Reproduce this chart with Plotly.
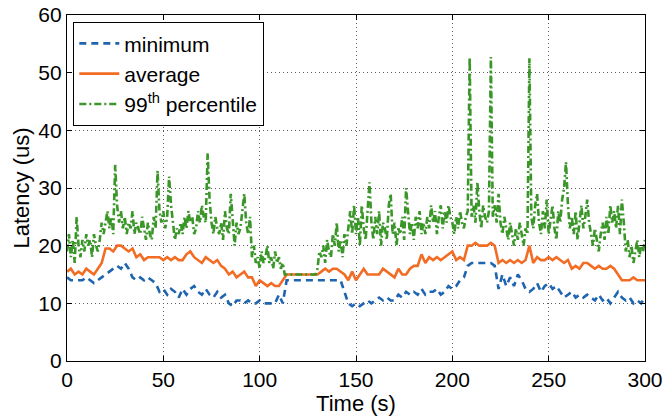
import plotly.graph_objects as go

# ---- data ----
t_step2 = list(range(0, 301, 2))
t_step1 = list(range(0, 301, 1))

minimum = [
    14.5, 14, 14, 14, 14, 14.5, 14, 13.5, 14, 14.5,
    15, 15.5, 16, 16.5, 16, 17, 16, 14.5, 14, 14.5,
    14, 14.5, 14, 13.5, 12, 12.5, 11.5, 12.5, 12, 11,
    12.5, 11.5, 12.5, 13, 12, 11.5, 12.5, 11.5, 11, 12,
    11, 11.5, 10, 9.5, 10.5, 10.5, 10, 10.5, 10, 10,
    10.5, 10, 10, 10, 10, 11.5, 10, 14, 14, 14,
    14, 14, 14, 14, 14, 14, 14, 14, 14, 14,
    14, 14, 12, 10, 9.5, 10, 9.5, 10, 10.5, 10,
    10.5, 11, 10.5, 11, 10.5, 10.5, 11.5, 11, 12, 11.5,
    12, 11.5, 12.5, 11.5, 12, 12, 12.5, 11.5, 12, 13,
    12.5, 13, 14, 14.5, 16.5, 17, 17, 17, 17, 17,
    17, 16.5, 12.5, 15, 13, 14.5, 13, 15, 14, 12.5,
    12, 12.5, 13.5, 12, 13, 13.5, 12.5, 13, 12, 11,
    11.5, 12, 11, 11.5, 11, 11.5, 11, 10.5, 11.5, 10.5,
    11, 10, 11, 12, 11, 10.5, 11, 10, 10.5, 10, 11,
]

average = [
    15.5, 16, 15, 15.5, 15, 16, 15.5, 15, 16, 17,
    19.5, 19.5, 19, 20, 20, 19.5, 19, 19.5, 18, 18.5,
    17.5, 18, 18, 18, 18, 17.5, 18, 17.5, 18, 17.5,
    17.5, 18.5, 19, 18, 17.5, 17, 18, 17.5, 17, 17.5,
    16.5, 16, 15, 15.5, 14.5, 15, 15.5, 14.5, 14.5, 13,
    14, 13.5, 13, 13.5, 13, 13, 14, 15, 15, 15,
    15, 15, 15, 15, 15, 15, 15.5, 16, 15.5, 16,
    16, 15.5, 15, 14, 15.5, 14, 15, 16, 15, 15,
    15, 15, 16, 15.5, 15, 14.5, 16, 15, 15, 16,
    16.5, 16.5, 18.5, 17, 18, 17.5, 18, 17.5, 18, 18.5,
    19, 17.5, 18, 17.5, 20, 20, 20.5, 20, 20, 20,
    20.5, 20, 17, 17.5, 17, 17.5, 17, 17.5, 17, 17.5,
    20, 17, 18, 17.5, 17.5, 18, 17.5, 18, 17.5, 17,
    17.5, 16, 16.5, 16, 17, 17, 16.5, 16, 16.5, 16,
    16, 16.5, 16, 15, 14, 14, 14, 14.5, 14, 14, 14,
]

percentile99 = [
    19, 22, 18, 21, 17, 25, 20, 18, 21, 19,
    22, 20, 21, 18, 22, 20, 19, 21, 24, 22,
    24, 26, 23, 25, 22, 34, 27, 24, 26, 23,
    25, 22, 24, 23, 26, 22, 24, 23, 22, 25,
    23, 21, 24, 22, 21, 25, 23, 33, 26, 24,
    26, 23, 25, 32, 27, 24, 21, 23, 22, 24,
    22, 25, 23, 26, 24, 25, 22, 23, 26, 24,
    27, 25, 24, 36, 28, 24, 22, 25, 23, 22,
    24, 21, 26, 23, 22, 29, 25, 20, 24, 22,
    23, 26, 29, 24, 22, 25, 18, 20, 17, 18,
    16, 19, 17, 18, 20, 17, 18, 16, 19, 17,
    18, 16, 17, 15, 15, 15, 15, 15, 15, 15,
    15, 15, 15, 15, 15, 15, 15, 15, 15, 15,
    16, 19, 18, 20, 17, 21, 19, 18, 22, 20,
    24, 19, 21, 18, 22, 20, 23, 26, 22, 27,
    22, 25, 20, 27, 23, 21, 26, 31, 24, 21,
    25, 22, 26, 20, 24, 23, 21, 27, 29, 22,
    24, 20, 23, 22, 25, 21, 30, 26, 22, 24,
    21, 25, 23, 26, 22, 24, 22, 25, 23, 27,
    24, 26, 22, 25, 27, 23, 26, 24, 27, 25,
    24, 22, 25, 23, 26, 24, 23, 25, 26, 52.7,
    25, 27, 24, 31, 26, 23, 27, 25, 24, 26,
    52.7, 25, 27, 24, 29, 24, 22, 25, 23, 21,
    24, 22, 20, 23, 21, 24, 22, 20, 23, 22,
    52.5, 25, 23, 27, 29, 24, 22, 26, 23, 28,
    22, 25, 27, 23, 21, 26, 24, 28, 30, 34.5,
    27, 23, 25, 22, 26, 21, 24, 27, 23, 25,
    28, 24, 22, 20, 23, 21, 19, 22, 24, 21,
    25, 22, 27, 24, 26, 23, 27, 22, 28, 24,
    19, 21, 18, 20, 17, 19, 21, 18, 20, 19, 21,
]

x_ticks = [0, 50, 100, 150, 200, 250, 300]
y_ticks = [0, 10, 20, 30, 40, 50, 60]
series_names = ["minimum", "average", "99<sup>th</sup> percentile"]

# ---- figure ----
BLUE = "rgb(30,100,175)"
ORANGE = "rgb(242,108,36)"
GREEN = "rgb(58,150,40)"
FONT = "Liberation Sans, Arial, Helvetica, sans-serif"

fig = go.Figure()
fig.add_trace(go.Scatter(x=t_step2, y=minimum, mode="lines", name=series_names[0],
                         line=dict(color=BLUE, width=2.6, dash="7px,5px")))
fig.add_trace(go.Scatter(x=t_step2, y=average, mode="lines", name=series_names[1],
                         line=dict(color=ORANGE, width=2.6)))
fig.add_trace(go.Scatter(x=t_step1, y=percentile99, mode="lines", name=series_names[2],
                         line=dict(color=GREEN, width=2.6, dash="7px,3px,2px,3px")))

axis_common = dict(
    showline=True, linecolor="black", linewidth=1.3, mirror="ticks",
    ticks="inside", ticklen=5, tickwidth=1, tickcolor="black",
    showgrid=True, gridcolor="rgb(90,90,90)", gridwidth=1, griddash="1px,3px",
    zeroline=False, automargin=False,
    tickfont=dict(size=21, color="black", family=FONT),
)

fig.update_xaxes(range=[0, 300], tickvals=x_ticks, ticktext=[str(v) for v in x_ticks],
                 title=dict(text="Time (s)", font=dict(size=22, color="black", family=FONT), standoff=2),
                 **axis_common)
fig.update_yaxes(range=[0, 60], tickvals=y_ticks, ticktext=[str(v) for v in y_ticks],
                 title=dict(text="Latency (us)", font=dict(size=22, color="black", family=FONT), standoff=2),
                 **axis_common)

fig.update_layout(
    width=665, height=418,
    margin=dict(l=67, r=20, t=15, b=57),
    plot_bgcolor="white", paper_bgcolor="white",
    font=dict(family=FONT, color="black"),
    legend=dict(x=0.0104, y=0.98, xanchor="left", yanchor="top",
                bgcolor="white", bordercolor="black", borderwidth=1.3,
                font=dict(size=21, color="black", family=FONT),
                itemwidth=40, tracegroupgap=0),
    showlegend=True,
)

fig.write_html("out.html")
